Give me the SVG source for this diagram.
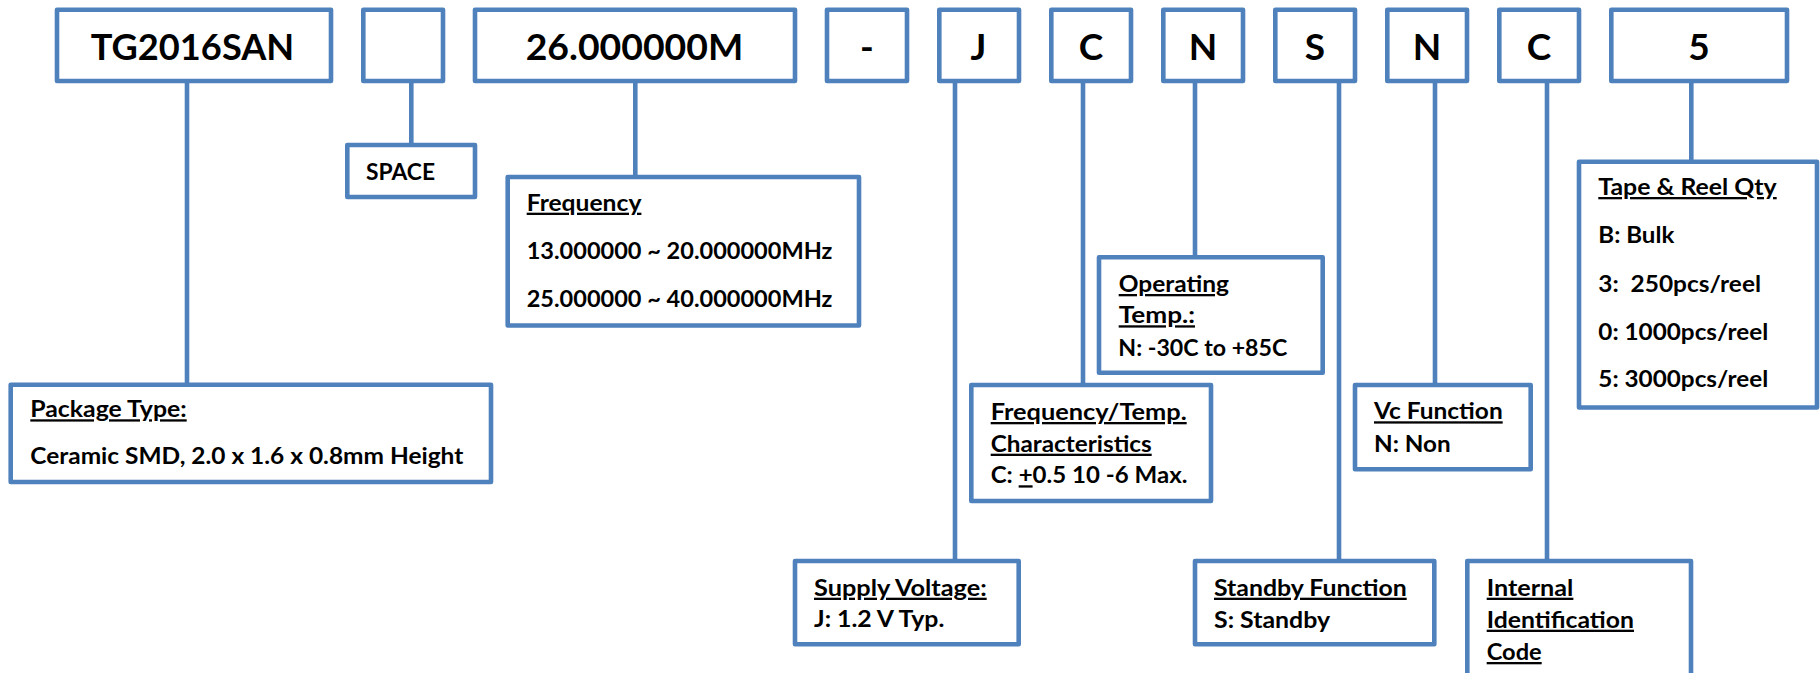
<svg xmlns="http://www.w3.org/2000/svg" width="1820" height="673" viewBox="0 0 1820 673">
<style>
.box{fill:#fff;stroke:#4F81BD;stroke-width:4.6;stroke-linejoin:round}
.ln{stroke:#4F81BD;stroke-width:4.6;fill:none}
.t{font-family:Lato,"Liberation Sans",sans-serif;font-weight:bold;font-size:23px;fill:#000}
.big{font-size:37px;text-anchor:middle}
.u{text-decoration:underline}
</style>
<rect width="1820" height="673" fill="#fff"/>
<g id="connectors">
<line class="ln" x1="187" y1="81" x2="187" y2="385"/>
<line class="ln" x1="411.3" y1="81" x2="411.3" y2="145"/>
<line class="ln" x1="635.3" y1="81" x2="635.3" y2="177"/>
<line class="ln" x1="955" y1="81" x2="955" y2="561"/>
<line class="ln" x1="1083" y1="81" x2="1083" y2="385"/>
<line class="ln" x1="1195" y1="81" x2="1195" y2="257.3"/>
<line class="ln" x1="1339" y1="81" x2="1339" y2="561"/>
<line class="ln" x1="1435" y1="81" x2="1435" y2="385"/>
<line class="ln" x1="1547" y1="81" x2="1547" y2="561"/>
<line class="ln" x1="1691.3" y1="81" x2="1691.3" y2="161.7"/>
</g>
<g id="code-tg2016san">
<rect class="box" x="57" y="9.7" width="274" height="71.3"/>
<text class="t big" x="192.5" y="60.3" textLength="203.6" lengthAdjust="spacingAndGlyphs">TG2016SAN</text>
</g>
<g id="code-space">
<rect class="box" x="363.3" y="9.7" width="79.7" height="71.3"/>
</g>
<g id="code-freq">
<rect class="box" x="475" y="9.7" width="320" height="71.3"/>
<text class="t big" x="634.5" y="60.3" textLength="217.6" lengthAdjust="spacingAndGlyphs">26.000000M</text>
</g>
<g id="code-dash">
<rect class="box" x="827" y="9.7" width="80" height="71.3"/>
<text class="t big" x="867" y="60.3">-</text>
</g>
<g id="code-j">
<rect class="box" x="939.3" y="9.7" width="79.7" height="71.3"/>
<text class="t big" x="978.5" y="60.3">J</text>
</g>
<g id="code-c">
<rect class="box" x="1051.3" y="9.7" width="79.7" height="71.3"/>
<text class="t big" x="1091" y="60.3">C</text>
</g>
<g id="code-n">
<rect class="box" x="1163.3" y="9.7" width="79.7" height="71.3"/>
<text class="t big" x="1203" y="60.3">N</text>
</g>
<g id="code-s">
<rect class="box" x="1275.3" y="9.7" width="79.7" height="71.3"/>
<text class="t big" x="1315" y="60.3">S</text>
</g>
<g id="code-n2">
<rect class="box" x="1387.3" y="9.7" width="79.7" height="71.3"/>
<text class="t big" x="1427" y="60.3">N</text>
</g>
<g id="code-c2">
<rect class="box" x="1499.3" y="9.7" width="79.7" height="71.3"/>
<text class="t big" x="1539" y="60.3">C</text>
</g>
<g id="code-5">
<rect class="box" x="1611.3" y="9.7" width="175.7" height="71.3"/>
<text class="t big" x="1699" y="60.3">5</text>
</g>
<g id="label-package">
<rect class="box" x="10.7" y="384.7" width="480.3" height="97.3"/>
<text class="t u" x="30.3" y="417.3" textLength="156.4" lengthAdjust="spacingAndGlyphs">Package Type:</text>
<text class="t" x="30.3" y="464" textLength="433" lengthAdjust="spacingAndGlyphs">Ceramic SMD, 2.0 x 1.6 x 0.8mm Height</text>
</g>
<g id="label-space">
<rect class="box" x="347.3" y="145" width="127.7" height="52"/>
<text class="t" x="366" y="180" textLength="69" lengthAdjust="spacingAndGlyphs">SPACE</text>
</g>
<g id="label-frequency">
<rect class="box" x="507.7" y="177" width="351.3" height="148.5"/>
<text class="t u" x="526.7" y="210.7" textLength="114.7" lengthAdjust="spacingAndGlyphs">Frequency</text>
<text class="t" x="526.7" y="259.3" textLength="305.7" lengthAdjust="spacingAndGlyphs">13.000000 ~ 20.000000MHz</text>
<text class="t" x="526.7" y="307.3" textLength="305.7" lengthAdjust="spacingAndGlyphs">25.000000 ~ 40.000000MHz</text>
</g>
<g id="label-operating">
<rect class="box" x="1099" y="257.3" width="223.7" height="115.4"/>
<text class="t u" x="1118.7" y="292" textLength="110.3" lengthAdjust="spacingAndGlyphs">Operating</text>
<text class="t u" x="1118.7" y="323.3" textLength="76.3" lengthAdjust="spacingAndGlyphs">Temp.:</text>
<text class="t" x="1118.3" y="355.7" textLength="169" lengthAdjust="spacingAndGlyphs">N: -30C to +85C</text>
</g>
<g id="label-freqtemp">
<rect class="box" x="971.3" y="385" width="239.7" height="116"/>
<text class="t u" x="990.7" y="420" textLength="196" lengthAdjust="spacingAndGlyphs">Frequency/Temp.</text>
<text class="t u" x="990.7" y="451.7" textLength="161" lengthAdjust="spacingAndGlyphs">Characteristics</text>
<text class="t" x="990.7" y="483.3" textLength="196.7" lengthAdjust="spacingAndGlyphs">C: <tspan class="u">+</tspan>0.5 10 -6 Max.</text>
</g>
<g id="label-supply">
<rect class="box" x="795" y="561" width="223.7" height="83.3"/>
<text class="t u" x="814" y="595.7" textLength="172.7" lengthAdjust="spacingAndGlyphs">Supply Voltage:</text>
<text class="t" x="814" y="626.7" textLength="130.3" lengthAdjust="spacingAndGlyphs">J: 1.2 V Typ.</text>
</g>
<g id="label-standby">
<rect class="box" x="1195" y="561" width="239.3" height="83.3"/>
<text class="t u" x="1214" y="595.7" textLength="192.7" lengthAdjust="spacingAndGlyphs">Standby Function</text>
<text class="t" x="1214" y="627.7" textLength="116" lengthAdjust="spacingAndGlyphs">S: Standby</text>
</g>
<g id="label-vc">
<rect class="box" x="1355" y="385" width="175.7" height="84.3"/>
<text class="t u" x="1374" y="419.3" textLength="128.7" lengthAdjust="spacingAndGlyphs">Vc Function</text>
<text class="t" x="1374" y="451.7" textLength="76.7" lengthAdjust="spacingAndGlyphs">N: Non</text>
</g>
<g id="label-internal">
<rect class="box" x="1467.3" y="561" width="223.7" height="130"/>
<text class="t u" x="1486.7" y="595.7" textLength="86.7" lengthAdjust="spacingAndGlyphs">Internal</text>
<text class="t u" x="1486.7" y="627.7" textLength="147.3" lengthAdjust="spacingAndGlyphs">Identification</text>
<text class="t u" x="1486.7" y="660" textLength="55" lengthAdjust="spacingAndGlyphs">Code</text>
</g>
<g id="label-tape">
<rect class="box" x="1579" y="161.7" width="238" height="245.8"/>
<text class="t u" x="1598.3" y="195" textLength="178.4" lengthAdjust="spacingAndGlyphs">Tape &amp; Reel Qty</text>
<text class="t" x="1598.3" y="243.3" textLength="76" lengthAdjust="spacingAndGlyphs">B: Bulk</text>
<text class="t" x="1598.3" y="291.7" textLength="162.7" lengthAdjust="spacingAndGlyphs" xml:space="preserve">3:  250pcs/reel</text>
<text class="t" x="1598.3" y="339.5" textLength="170" lengthAdjust="spacingAndGlyphs">0: 1000pcs/reel</text>
<text class="t" x="1598.3" y="387.3" textLength="170" lengthAdjust="spacingAndGlyphs">5: 3000pcs/reel</text>
</g>
</svg>
